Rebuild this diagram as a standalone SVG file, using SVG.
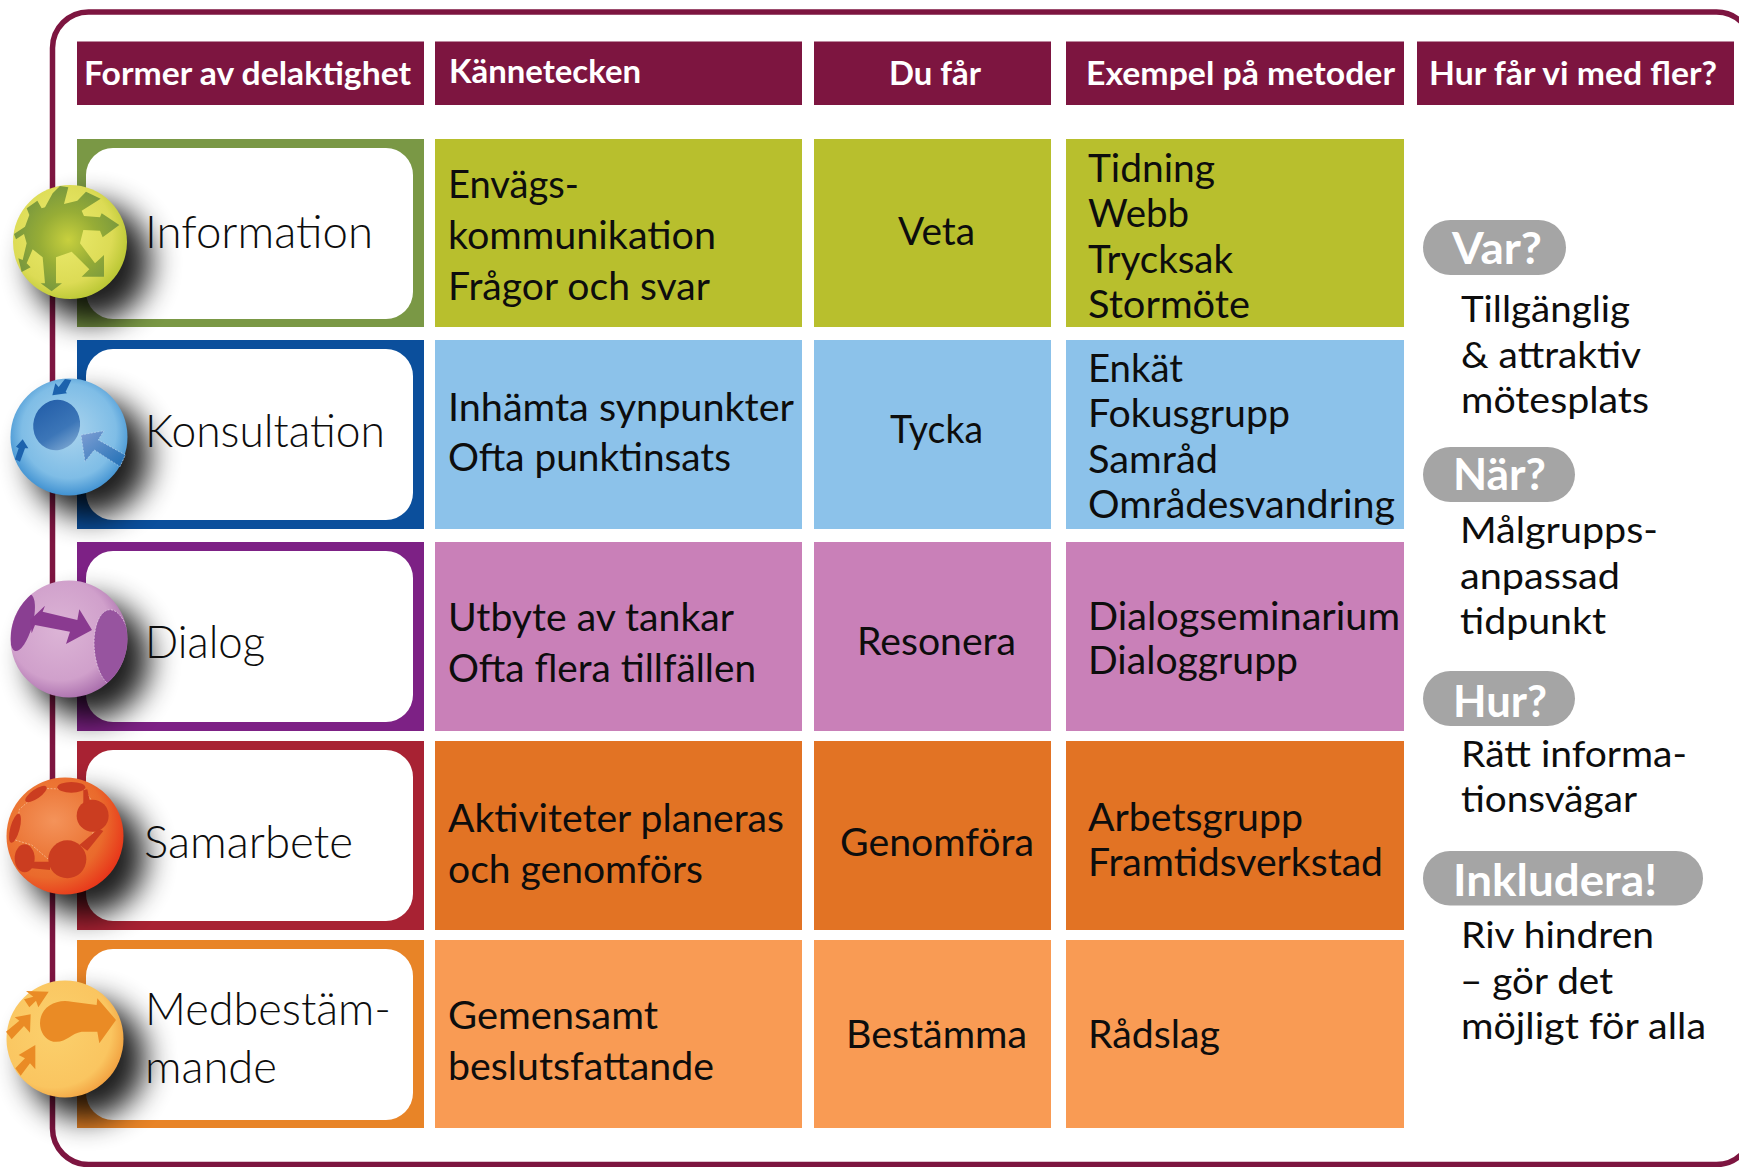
<svg xmlns="http://www.w3.org/2000/svg" width="1739" height="1167" viewBox="0 0 1739 1167">
<style>
text{font-family:"Lato","Open Sans","Liberation Sans",sans-serif;fill:#0d0d0d}
.h{font-size:32.5px;font-weight:700;fill:#fff}
.b{font-size:38px}
.n{font-size:45px;font-weight:300}
.p{font-size:43px;font-weight:700;fill:#fff}
.r{font-size:37px}
.hd{fill:#7d1540}
.w{fill:#fff}
.pill{fill:#a5a5a5}
.sh{fill:#000;opacity:.88;filter:url(#blur)}
</style>
<defs>
<filter id="blur" x="-60%" y="-60%" width="220%" height="220%"><feGaussianBlur stdDeviation="15"/></filter>
<radialGradient id="s1" cx=".42" cy=".42" r=".6"><stop offset="0" stop-color="#ecec6e"/><stop offset=".75" stop-color="#dcdb55"/><stop offset="1" stop-color="#bcc836"/></radialGradient>
<radialGradient id="a1" gradientUnits="userSpaceOnUse" cx="205" cy="720" r="190"><stop offset="0" stop-color="#c8d03e"/><stop offset=".45" stop-color="#97ad36"/><stop offset="1" stop-color="#6f9140"/></radialGradient>
<radialGradient id="s2" cx=".5" cy=".45" r=".56"><stop offset="0" stop-color="#aad4ee"/><stop offset=".72" stop-color="#7fbde6"/><stop offset="1" stop-color="#3d8fd0"/></radialGradient>
<linearGradient id="a2" x1="0" y1="0" x2="1" y2="1"><stop offset="0" stop-color="#1f5aa6"/><stop offset=".6" stop-color="#3c76b8"/><stop offset="1" stop-color="#8fb6da"/></linearGradient>
<linearGradient id="a2b" x1="0" y1="0" x2="1" y2="1"><stop offset="0" stop-color="#7f9fd4"/><stop offset="1" stop-color="#1f6fb5"/></linearGradient>
<radialGradient id="s3" cx=".42" cy=".42" r=".62"><stop offset="0" stop-color="#dcb4d6"/><stop offset=".7" stop-color="#d0a0cb"/><stop offset="1" stop-color="#a86cab"/></radialGradient>
<radialGradient id="s4" cx=".36" cy=".38" r=".68"><stop offset="0" stop-color="#f08a42"/><stop offset=".7" stop-color="#ea6a2c"/><stop offset="1" stop-color="#e8361a"/></radialGradient>
<radialGradient id="s4c" cx=".45" cy=".45" r=".6"><stop offset="0" stop-color="#f4935a"/><stop offset="1" stop-color="#ea7232"/></radialGradient>
<radialGradient id="s5" cx=".4" cy=".42" r=".66"><stop offset="0" stop-color="#fbd06c"/><stop offset=".75" stop-color="#fac560"/><stop offset="1" stop-color="#f09a3a"/></radialGradient>
<clipPath id="c3"><circle cx="207" cy="897" r="175"/></clipPath>
</defs>
<rect width="1739" height="1167" fill="#fff"/>
<rect id="frame" x="52.5" y="12" width="1700" height="1152.5" rx="36" fill="#fff" stroke="#7d1540" stroke-width="5.5"/>

<g id="headers">
<rect class="hd" x="77" y="41.5" width="347" height="63.5"/>
<rect class="hd" x="435" y="41.5" width="367" height="63.5"/>
<rect class="hd" x="814" y="41.5" width="237" height="63.5"/>
<rect class="hd" x="1066" y="41.5" width="338" height="63.5"/>
<rect class="hd" x="1417" y="41.5" width="317" height="63.5"/>
<text class="h" x="84" y="85" textLength="327" lengthAdjust="spacingAndGlyphs">Former av delaktighet</text>
<text class="h" x="449" y="83" textLength="192" lengthAdjust="spacingAndGlyphs">Kännetecken</text>
<text class="h" x="889" y="85" textLength="92" lengthAdjust="spacingAndGlyphs">Du får</text>
<text class="h" x="1086" y="85" textLength="309" lengthAdjust="spacingAndGlyphs">Exempel på metoder</text>
<text class="h" x="1429" y="85" textLength="288" lengthAdjust="spacingAndGlyphs">Hur får vi med fler?</text>
</g>

<g id="row-information">
<rect x="77" y="139" width="347" height="188" fill="#7a9845"/><rect class="w" x="86" y="148" width="327" height="171" rx="27"/>
<rect x="435" y="139" width="367" height="188" fill="#b8bf2d"/><rect x="814" y="139" width="237" height="188" fill="#b8bf2d"/><rect x="1066" y="139" width="338" height="188" fill="#b8bf2d"/>
<circle class="sh" cx="91" cy="262" r="60"/>
<circle cx="70" cy="242" r="57" fill="url(#s1)"/>
<g transform="scale(.3333)"><path fill="url(#a1)" d="M135 622L158 580L180 558L205 562L192 612L232 602L258 575L302 596L245 632L252 648L300 652L305 640L358 675L308 712L300 692L250 690L240 730L285 790L312 765L312 830L245 830L268 808L215 755L168 772L168 850L186 850L155 874L122 850L135 850L128 772L98 748L80 790L92 802L65 816L55 775L68 780L80 730L72 702L48 718L42 702L75 680L88 645L80 625L112 602L125 625Z"/></g>
<text class="n" x="145" y="248" textLength="228" lengthAdjust="spacingAndGlyphs">Information</text>
<text class="b" x="448" y="198" textLength="131" lengthAdjust="spacingAndGlyphs">Envägs-</text>
<text class="b" x="448" y="249" textLength="268" lengthAdjust="spacingAndGlyphs">kommunikation</text>
<text class="b" x="448" y="300" textLength="262" lengthAdjust="spacingAndGlyphs">Frågor och svar</text>
<text class="b" x="898" y="245" textLength="77" lengthAdjust="spacingAndGlyphs">Veta</text>
<text class="b" x="1088" y="182" textLength="127" lengthAdjust="spacingAndGlyphs">Tidning</text>
<text class="b" x="1088" y="227" textLength="101" lengthAdjust="spacingAndGlyphs">Webb</text>
<text class="b" x="1088" y="273" textLength="145" lengthAdjust="spacingAndGlyphs">Trycksak</text>
<text class="b" x="1088" y="318" textLength="162" lengthAdjust="spacingAndGlyphs">Stormöte</text>
</g>

<g id="row-konsultation">
<rect x="77" y="340" width="347" height="189" fill="#0b4f9c"/><rect class="w" x="86" y="349" width="327" height="171" rx="27"/>
<rect x="435" y="340" width="367" height="189" fill="#8cc2ea"/><rect x="814" y="340" width="237" height="189" fill="#8cc2ea"/><rect x="1066" y="340" width="338" height="189" fill="#8cc2ea"/>
<circle class="sh" cx="90" cy="457" r="60"/>
<circle cx="69" cy="437" r="58.5" fill="url(#s2)"/>
<g transform="translate(0 340) scale(.3333)">
<ellipse cx="170" cy="255" rx="70" ry="76" transform="rotate(15 170 255)" fill="url(#a2)"/>
<path fill="#1c62ad" d="M195 117L214 120L197 155L201 160L157 166L166 130L176 141Z"/>
<path fill="#1c62ad" d="M45 358L56 325L48 320L68 298L85 325L75 325L60 365Z"/>
<path fill="url(#a2b)" stroke="#bcd9f0" stroke-width="2" stroke-dasharray="6 4" d="M243 285L312 272L295 300L376 345L360 380L283 330L255 365Z"/>
</g>
<text class="n" x="145" y="447" textLength="240" lengthAdjust="spacingAndGlyphs">Konsultation</text>
<text class="b" x="448" y="421" textLength="346" lengthAdjust="spacingAndGlyphs">Inhämta synpunkter</text>
<text class="b" x="448" y="471" textLength="283" lengthAdjust="spacingAndGlyphs">Ofta punktinsats</text>
<text class="b" x="890" y="443" textLength="93" lengthAdjust="spacingAndGlyphs">Tycka</text>
<text class="b" x="1088" y="382" textLength="95" lengthAdjust="spacingAndGlyphs">Enkät</text>
<text class="b" x="1088" y="427" textLength="202" lengthAdjust="spacingAndGlyphs">Fokusgrupp</text>
<text class="b" x="1088" y="473" textLength="130" lengthAdjust="spacingAndGlyphs">Samråd</text>
<text class="b" x="1088" y="518" textLength="307" lengthAdjust="spacingAndGlyphs">Områdesvandring</text>
</g>

<g id="row-dialog">
<rect x="77" y="542" width="347" height="189" fill="#7d2185"/><rect class="w" x="86" y="551" width="327" height="171" rx="27"/>
<rect x="435" y="542" width="367" height="189" fill="#c980b8"/><rect x="814" y="542" width="237" height="189" fill="#c980b8"/><rect x="1066" y="542" width="338" height="189" fill="#c980b8"/>
<circle class="sh" cx="90" cy="659" r="60"/>
<circle cx="69" cy="639" r="58.5" fill="url(#s3)"/>
<g transform="translate(0 340) scale(.3333)">
<g clip-path="url(#c3)">
<ellipse cx="68" cy="848" rx="30" ry="88" transform="rotate(15 68 848)" fill="#8a3f92"/>
<ellipse cx="338" cy="925" rx="55" ry="116" transform="rotate(-5 338 925)" fill="#97549f" stroke="#ecd6ea" stroke-width="2" stroke-dasharray="6 4"/>
</g>
<path fill="#8a3a90" d="M90 840L135 797L128 815L232 840L238 808L276 870L198 912L210 875L105 855L95 880Z"/>
</g>
<text class="n" x="145" y="658" textLength="120" lengthAdjust="spacingAndGlyphs">Dialog</text>
<text class="b" x="448" y="631" textLength="286" lengthAdjust="spacingAndGlyphs">Utbyte av tankar</text>
<text class="b" x="448" y="682" textLength="308" lengthAdjust="spacingAndGlyphs">Ofta flera tillfällen</text>
<text class="b" x="857" y="654.5" textLength="159" lengthAdjust="spacingAndGlyphs">Resonera</text>
<text class="b" x="1088" y="630" textLength="312" lengthAdjust="spacingAndGlyphs">Dialogseminarium</text>
<text class="b" x="1088" y="674" textLength="210" lengthAdjust="spacingAndGlyphs">Dialoggrupp</text>
</g>

<g id="row-samarbete">
<rect x="77" y="741" width="347" height="189" fill="#a82233"/><rect class="w" x="86" y="750" width="327" height="171" rx="27"/>
<rect x="435" y="741" width="367" height="189" fill="#e27324"/><rect x="814" y="741" width="237" height="189" fill="#e27324"/><rect x="1066" y="741" width="338" height="189" fill="#e27324"/>
<circle class="sh" cx="86" cy="856" r="60"/>
<circle cx="65" cy="836" r="58.5" fill="url(#s4)"/>
<g transform="translate(0 730) scale(.3333)">
<path fill="url(#s4c)" stroke="#f6c9a8" stroke-width="2" stroke-dasharray="6 4" d="M45 330L58 238L130 175L255 180L305 262L258 345L150 392L95 345Z"/>
<g fill="#cb3d20">
<circle cx="278" cy="257" r="48"/><circle cx="202" cy="388" r="57"/><ellipse cx="74" cy="385" rx="30" ry="42"/>
<ellipse cx="214" cy="172" rx="42" ry="16"/><ellipse cx="108" cy="192" rx="38" ry="14" transform="rotate(-35 108 192)"/><ellipse cx="45" cy="295" rx="14" ry="45" transform="rotate(15 45 295)"/>
<path d="M95 395L150 395L150 420L95 415Z"/><path d="M296 296L310 303L262 362L238 345Z"/><path d="M250 180L262 178L270 215L250 225Z"/>
</g>
</g>
<text class="n" x="144" y="858" textLength="209" lengthAdjust="spacingAndGlyphs">Samarbete</text>
<text class="b" x="448" y="832" textLength="336" lengthAdjust="spacingAndGlyphs">Aktiviteter planeras</text>
<text class="b" x="448" y="883" textLength="255" lengthAdjust="spacingAndGlyphs">och genomförs</text>
<text class="b" x="840" y="856" textLength="194" lengthAdjust="spacingAndGlyphs">Genomföra</text>
<text class="b" x="1088" y="831" textLength="215" lengthAdjust="spacingAndGlyphs">Arbetsgrupp</text>
<text class="b" x="1088" y="876" textLength="295" lengthAdjust="spacingAndGlyphs">Framtidsverkstad</text>
</g>

<g id="row-medbestammande">
<rect x="77" y="940" width="347" height="188" fill="#e88427"/><rect class="w" x="86" y="949" width="327" height="171" rx="27"/>
<rect x="435" y="940" width="367" height="188" fill="#f99b54"/><rect x="814" y="940" width="237" height="188" fill="#f99b54"/><rect x="1066" y="940" width="338" height="188" fill="#f99b54"/>
<circle class="sh" cx="86" cy="1059" r="60"/>
<circle cx="65" cy="1039" r="58.5" fill="url(#s5)"/>
<g transform="translate(0 730) scale(.3333)" fill="#ea8b25">
<path d="M120 880C120 830 170 805 215 815L290 825L292 805L348 870L298 940L292 905L245 905C210 910 200 940 160 935C135 930 120 905 120 880Z"/>
<path d="M78 783L146 785L115 832L108 812L88 832L72 808L100 800Z"/>
<path d="M92 853L90 908L72 888L35 928L18 905L58 872L44 862Z"/>
<path d="M106 945L106 1018L90 1000L62 1037L46 1015L75 985L56 975Z"/>
</g>
<text class="n" x="145" y="1025" textLength="246" lengthAdjust="spacingAndGlyphs">Medbestäm-</text>
<text class="n" x="145" y="1083" textLength="132" lengthAdjust="spacingAndGlyphs">mande</text>
<text class="b" x="448" y="1029" textLength="210" lengthAdjust="spacingAndGlyphs">Gemensamt</text>
<text class="b" x="448" y="1080" textLength="266" lengthAdjust="spacingAndGlyphs">beslutsfattande</text>
<text class="b" x="846" y="1048" textLength="181" lengthAdjust="spacingAndGlyphs">Bestämma</text>
<text class="b" x="1088" y="1048" textLength="132" lengthAdjust="spacingAndGlyphs">Rådslag</text>
</g>

<g id="var">
<rect class="pill" x="1423" y="220" width="143" height="55" rx="27.5"/>
<text class="p" x="1452" y="264" textLength="90" lengthAdjust="spacingAndGlyphs">Var?</text>
<text class="r" x="1461" y="322" textLength="169" lengthAdjust="spacingAndGlyphs">Tillgänglig</text>
<text class="r" x="1461" y="368" textLength="180" lengthAdjust="spacingAndGlyphs">&amp; attraktiv</text>
<text class="r" x="1461" y="413" textLength="188" lengthAdjust="spacingAndGlyphs">mötesplats</text>
</g>
<g id="nar">
<rect class="pill" x="1423" y="447" width="152" height="55" rx="27.5"/>
<text class="p" x="1453" y="490" textLength="93" lengthAdjust="spacingAndGlyphs">När?</text>
<text class="r" x="1460" y="543" textLength="198" lengthAdjust="spacingAndGlyphs">Målgrupps-</text>
<text class="r" x="1460" y="589" textLength="160" lengthAdjust="spacingAndGlyphs">anpassad</text>
<text class="r" x="1460" y="634" textLength="146" lengthAdjust="spacingAndGlyphs">tidpunkt</text>
</g>
<g id="hur">
<rect class="pill" x="1423" y="671" width="152" height="55" rx="27.5"/>
<text class="p" x="1453" y="717" textLength="94" lengthAdjust="spacingAndGlyphs">Hur?</text>
<text class="r" x="1461" y="767" textLength="226" lengthAdjust="spacingAndGlyphs">Rätt informa-</text>
<text class="r" x="1461" y="812" textLength="176" lengthAdjust="spacingAndGlyphs">tionsvägar</text>
</g>
<g id="inkludera">
<rect class="pill" x="1423" y="851" width="280" height="54.5" rx="27"/>
<text class="p" x="1453" y="896" textLength="204" lengthAdjust="spacingAndGlyphs">Inkludera!</text>
<text class="r" x="1461" y="948" textLength="193" lengthAdjust="spacingAndGlyphs">Riv hindren</text>
<text class="r" x="1460" y="994" textLength="153" lengthAdjust="spacingAndGlyphs">– gör det</text>
<text class="r" x="1461" y="1039" textLength="245" lengthAdjust="spacingAndGlyphs">möjligt för alla</text>
</g>
</svg>
